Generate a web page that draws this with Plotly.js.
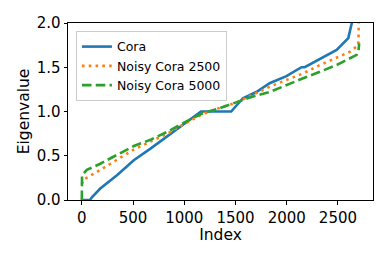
<!DOCTYPE html>
<html>
<head>
<meta charset="utf-8">
<script src="https://cdn.plot.ly/plotly-3.0.1.min.js"></script>
<style>html,body{margin:0;padding:0;background:#fff;}#chart{width:390px;height:260px;}</style>
</head>
<body>
<div id="chart"></div>
<script>
// Series names
const seriesNames = ["Cora", "Noisy Cora 2500", "Noisy Cora 5000"];

// Cora (sorted eigenvalues)
const coraIndex = [0, 80, 98, 180, 343, 507, 670, 833, 1016, 1163, 1458, 1572, 1703, 1833, 1997, 2144, 2176, 2324, 2487, 2601, 2634, 2645, 2707];
const coraValue = [0, 0, 0.03, 0.13, 0.28, 0.45, 0.58, 0.72, 0.87, 1.0, 1.0, 1.15, 1.22, 1.32, 1.40, 1.5, 1.5, 1.59, 1.695, 1.83, 1.98, 2.05, 2.6];

// Noisy Cora 2500
const noisy2500Index = [0, 16, 180, 343, 507, 670, 833, 1016, 1180, 1343, 1507, 1670, 1833, 1997, 2160, 2324, 2487, 2618, 2699, 2707];
const noisy2500Value = [0.18, 0.23, 0.34, 0.45, 0.57, 0.66, 0.75, 0.87, 0.97, 1.04, 1.1, 1.19, 1.28, 1.356, 1.43, 1.525, 1.61, 1.676, 1.75, 2.3];

// Noisy Cora 5000
const noisy5000Index = [0, 2, 49, 180, 343, 507, 670, 833, 1016, 1180, 1343, 1507, 1670, 1833, 1997, 2160, 2324, 2487, 2683, 2700, 2707];
const noisy5000Value = [0, 0.28, 0.34, 0.41, 0.51, 0.61, 0.68, 0.77, 0.885, 0.98, 1.036, 1.1, 1.17, 1.22, 1.30, 1.375, 1.45, 1.525, 1.64, 1.68, 1.77];

// Tick values
const xTicks = [0, 500, 1000, 1500, 2000, 2500];
const yTicks = [0, 0.5, 1.0, 1.5, 2.0];

const font = "DejaVu Sans, sans-serif";

const traces = [
  {x: coraIndex, y: coraValue, name: seriesNames[0], mode: "lines",
   line: {color: "#1f77b4", width: 2.6}},
  {x: noisy2500Index, y: noisy2500Value, name: seriesNames[1], mode: "lines",
   line: {color: "#ff7f0e", width: 2.6, dash: "2.6px,4.2px"}},
  {x: noisy5000Index, y: noisy5000Value, name: seriesNames[2], mode: "lines",
   line: {color: "#2ca02c", width: 2.6, dash: "9.6px,4.2px"}}
];

const axisCommon = {
  showline: true, mirror: true, linecolor: "#000", linewidth: 1,
  ticks: "outside", ticklen: 3.5, tickwidth: 1, tickcolor: "#000",
  showgrid: false, zeroline: false,
  tickfont: {family: font, size: 15, color: "#000"}
};

const layout = {
  width: 390, height: 260,
  margin: {l: 68, r: 17, t: 23, b: 60},
  paper_bgcolor: "#fff", plot_bgcolor: "#fff",
  font: {family: font, color: "#000"},
  showlegend: true,
  legend: {
    x: 0.026, y: 0.955, xanchor: "left", yanchor: "top",
    bgcolor: "rgba(255,255,255,0.8)", bordercolor: "#cccccc", borderwidth: 1,
    font: {family: font, size: 12.5, color: "#000"},
    itemwidth: 30, tracegroupgap: 0
  },
  xaxis: Object.assign({}, axisCommon, {
    range: [-135, 2842], tickvals: xTicks, ticktext: xTicks.map(String),
    title: {text: "Index", font: {family: font, size: 15.5, color: "#000"}, standoff: 1}
  }),
  yaxis: Object.assign({}, axisCommon, {
    range: [0, 2], tickvals: yTicks, ticktext: yTicks.map(v => v.toFixed(1)),
    title: {text: "Eigenvalue", font: {family: font, size: 15.5, color: "#000"}, standoff: 3}
  })
};

Plotly.newPlot("chart", traces, layout, {staticPlot: true, displayModeBar: false});
</script>
</body>
</html>
